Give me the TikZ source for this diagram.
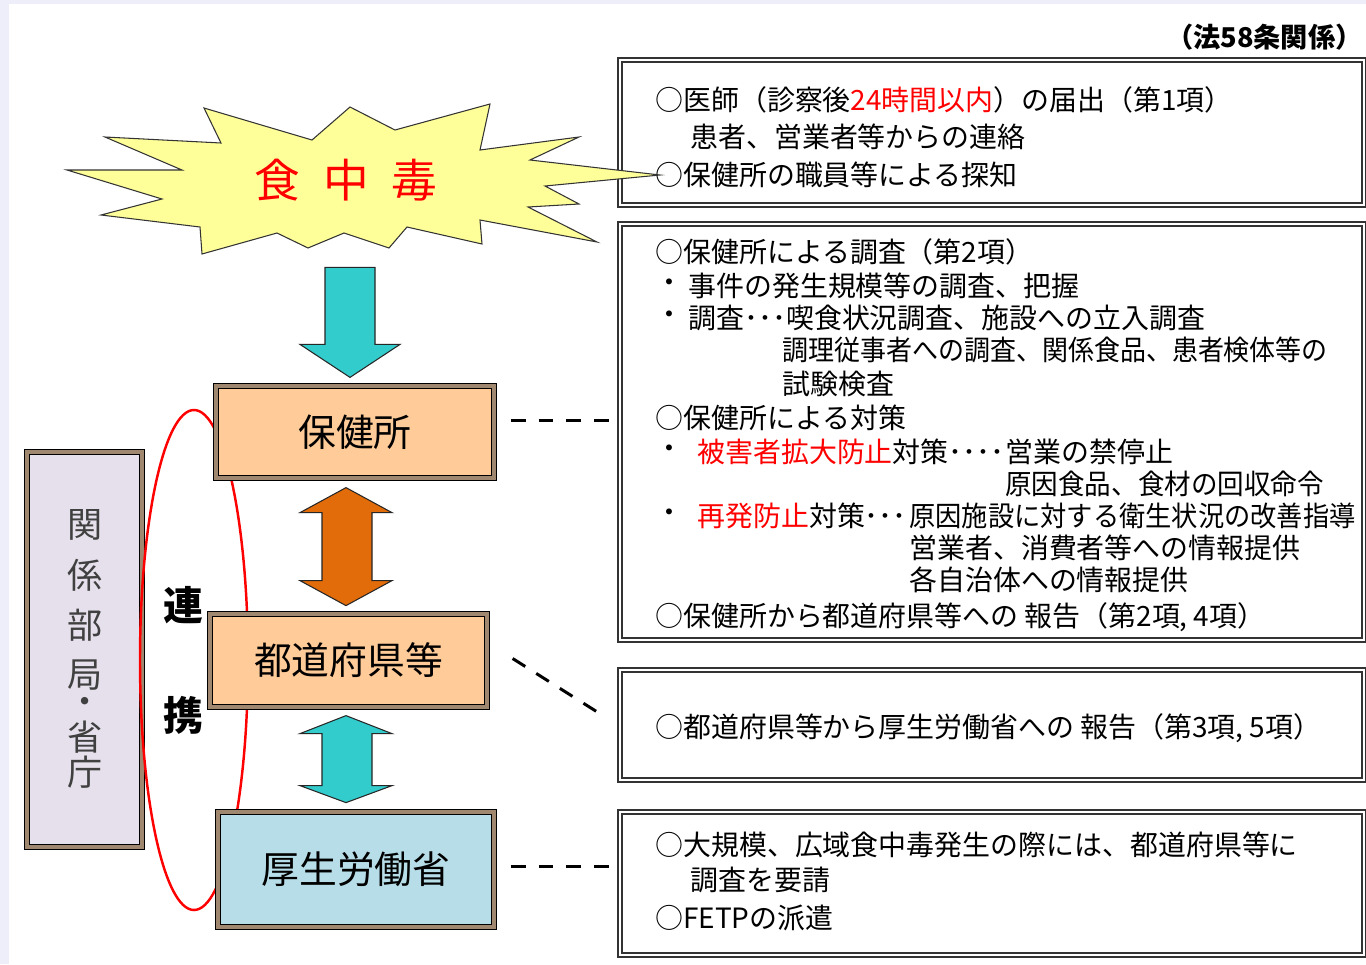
\documentclass[tikz,border=0pt]{standalone}
\usepackage{fontspec}
\setmainfont{Noto Sans CJK JP}
\usetikzlibrary{calc}
\definecolor{lavbg}{HTML}{EEEEFA}
\definecolor{boomfill}{HTML}{FFFF99}
\definecolor{peach}{HTML}{FFCC99}
\definecolor{paleblue}{HTML}{B7DEE8}
\definecolor{lilac}{HTML}{E6E0EC}
\definecolor{tealarrow}{HTML}{33CCCC}
\definecolor{orangearrow}{HTML}{E36C0A}
\definecolor{rimbrown}{HTML}{A08870}
\newcommand{\pxl}{0.02cm}

\begin{document}
\begin{tikzpicture}[x=0.02cm,y=-0.02cm,line join=miter,
  orgbox/.style={draw=black,double=rimbrown,double distance=2pt,line width=0.7pt,inner sep=0pt,font=\fontsize{21.5}{24}\selectfont},
  txtbox/.style={draw=black!80,double=white,double distance=1.6pt,line width=0.8pt,fill=white,inner sep=0pt},
  txt/.style={anchor=west,inner sep=0pt,font=\fontsize{15.9}{18}\selectfont},
  blockarrow/.style={draw=black!85,line width=0.6pt},
  dashline/.style={line width=1.7pt,dash pattern=on 8.5pt off 7.4pt},
  renkei/.style={inner sep=0pt,font=\fontsize{22.7}{24}\selectfont\bfseries}]
\useasboundingbox (0,0) rectangle (1366,964);
\fill[lavbg] (0,0) rectangle (1366,964);
\fill[white] (9,4) rectangle (1366,964);

% header
\node[anchor=east,inner sep=0pt,font=\fontsize{15.5}{18}\selectfont\bfseries] (law) at (1363,37) {（法58条関係）};

% right-hand text boxes
\node[txtbox,minimum width=744*\pxl,minimum height=145*\pxl] (todoke) at (992,132.5) {};
\node[txtbox,minimum width=744*\pxl,minimum height=416*\pxl] (chosa) at (992,432) {};
\node[txtbox,minimum width=744*\pxl,minimum height=110*\pxl] (hokoku) at (992,725) {};
\node[txtbox,minimum width=744*\pxl,minimum height=143*\pxl] (kosho) at (992,883.5) {};

\node[txt] (a1) at (655,100) {○医師（診察後\textcolor{red}{24時間以内}）の届出（第1項）};
\node[txt] (a2) at (690,137) {患者、営業者等からの連絡};
\node[txt] (a3) at (655,175) {○保健所の職員等による探知};

\node[txt] (b1) at (655,252) {○保健所による調査（第2項）};
\node[txt] (b2) at (655,286) {・};
\node[txt] (b2t) at (688,286) {事件の発生規模等の調査、把握};
\node[txt] (b3) at (655,318) {・};
\node[txt] (b3t) at (688,318) {調査･･･喫食状況調査、施設への立入調査};
\node[txt,xscale=0.93] (b4) at (782,350) {調理従事者への調査、関係食品、患者検体等の};
\node[txt] (b5) at (782,384) {試験検査};
\node[txt] (b6) at (655,418) {○保健所による対策};
\node[txt] (b7) at (655,452) {・};
\node[txt] (b7t) at (697,452) {\textcolor{red}{被害者拡大防止}対策････};
\node[txt] (b7u) at (b7t.east) {営業の禁停止};
\node[txt,xscale=0.95] (b8) at ($(b7u.west)+(0,32)$) {原因食品、食材の回収命令};
\node[txt] (b9) at (655,516) {・};
\node[txt] (b9t) at (697,516) {\textcolor{red}{再発防止}対策･･･};
\node[txt,xscale=0.94] (b9u) at (909,516) {原因施設に対する衛生状況の改善指導};
\node[txt] (b10) at (909,548) {営業者、消費者等への情報提供};
\node[txt] (b11) at (909,580) {各自治体への情報提供};
\node[txt] (b12) at (655,617) {○保健所から都道府県等への 報告（第2項, 4項）};

\node[txt] (c1) at (655,728) {○都道府県等から厚生労働省への 報告（第3項, 5項）};

\node[txt] (d1) at (655,845) {○大規模、広域食中毒発生の際には、都道府県等に};
\node[txt] (d2) at (690,880) {調査を要請};
\node[txt] (d3) at (655,918) {○FETPの派遣};

% explosion
\draw[fill=boomfill,draw=black!80,line width=0.6pt]
  (105,137) -- (221,143) -- (204,108) -- (312,140) -- (350,107) -- (395,130)
  -- (490,104) -- (480,150) -- (579,137) -- (530,160) -- (660,175) -- (545,186)
  -- (579,204) -- (528,207) -- (597,242) -- (480,220) -- (482,244) -- (407,227)
  -- (389,248) -- (344,233) -- (308,248) -- (277,233) -- (202,254) -- (200,227)
  -- (101,215) -- (162,199) -- (67,170) -- (182,170) -- cycle;
\node[inner sep=0pt,text=red,font=\fontsize{26}{28}\selectfont] (shoku) at (346,180) {食\hspace{13pt}中\hspace{13pt}毒};

% left column
\node[orgbox,fill=lilac,minimum width=115*\pxl,minimum height=395*\pxl] (kankei) at (84.5,649.5) {};
\foreach \c/\y in {関/525,係/575,部/625,局/675,省/737,庁/772}
  \node[inner sep=0pt,text=black!75,font=\fontsize{20}{22}\selectfont] (k\y) at (85,\y) {\c};
\node[inner sep=0pt,text=black!75,font=\fontsize{20}{22}\selectfont,text height=1.2ex,text depth=0pt] (kdot) at (85,709) {・};

\draw[red,line width=1.4pt] (194,660) ellipse [x radius=54,y radius=250];

\node[orgbox,fill=peach,minimum width=278*\pxl,minimum height=92*\pxl] (hoken) at (355,432) {保健所};
\node[orgbox,fill=peach,minimum width=277*\pxl,minimum height=93*\pxl] (todo) at (348.5,660.5) {都道府県等};
\node[orgbox,fill=paleblue,minimum width=276*\pxl,minimum height=115*\pxl] (kosei) at (356,869.5) {厚生労働省};

\node[renkei] (ren) at (183,605) {連};
\node[renkei] (kei) at (183,715) {携};

% block arrows
\draw[blockarrow,fill=tealarrow] ($(hoken.north)+(-5,-8)$) -- ++(-50,-33) -- ++(25,0)
  -- ++(0,-77) -- ++(50,0) -- ++(0,77) -- ++(25,0) -- cycle;
\draw[blockarrow,fill=orangearrow] ($(hoken.south)+(-9,9)$) -- ++(46,25) -- ++(-20,0)
  -- ++(0,68) -- ++(20,0) -- ++(-46,25) -- ++(-46,-25) -- ++(22,0) -- ++(0,-68)
  -- ++(-22,0) -- cycle;
\draw[blockarrow,fill=tealarrow] ($(todo.south)+(-2.5,8)$) -- ++(46,18) -- ++(-20,0)
  -- ++(0,52) -- ++(20,0) -- ++(-46,17) -- ++(-46,-17) -- ++(22,0) -- ++(0,-52)
  -- ++(-22,0) -- cycle;

% dashed links
\draw[dashline] ($(hoken.east)+(16,-12)$) -- ($(chosa.west)+(-5,-12)$);
\draw[dashline] ($(todo.east)+(25,-2)$) -- ($(hokoku.west)+(-22,-13)$);
\draw[dashline] ($(kosei.east)+(16,-3.5)$) -- ($(kosho.west)+(-5,-17.5)$);
\end{tikzpicture}
\end{document}
